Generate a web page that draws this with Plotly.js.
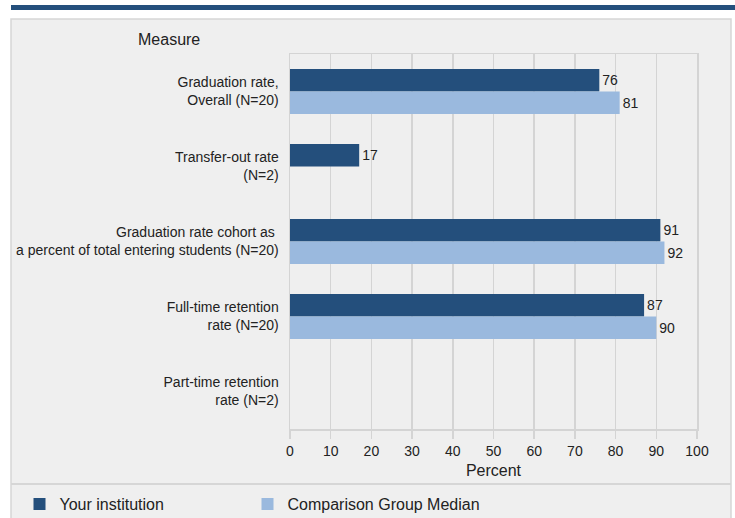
<!DOCTYPE html>
<html>
<head>
<meta charset="utf-8">
<script src="https://cdn.plot.ly/plotly-3.0.1.min.js"></script>
<style>
html,body{margin:0;padding:0;background:#ffffff;}
#chart{width:735px;height:518px;}
</style>
</head>
<body>
<div id="chart"></div>
<script>
// ---- data ----
var categories = [
  "Graduation rate,<br>Overall (N=20)",
  "Transfer-out rate<br>(N=2)",
  "Graduation rate cohort as <br>a percent of total entering students (N=20)",
  "Full-time retention<br>rate (N=20)",
  "Part-time retention<br>rate (N=2)"
];
var yourInstitution = [76, 17, 91, 87, null];
var comparisonMedian = [81, null, 92, 90, null];
var xTickValues = [0, 10, 20, 30, 40, 50, 60, 70, 80, 90, 100];
var seriesNames = ["Your institution", "Comparison Group Median"];

// ---- layout geometry (pixels) ----
var W = 735, H = 518;
var plotL = 290, plotR = 697, plotT = 54, plotB = 429;
function px(x){ return (x - plotL) / (plotR - plotL); }
function py(y){ return (plotB - y) / (plotB - plotT); }

var darkBlue = "#244f7c";
var lightBlue = "#9ab9de";
var gridCol = "#d4d4d4";
var font = "Liberation Sans, Arial, sans-serif";

var traces = [
  {
    type: "bar", orientation: "h", name: seriesNames[0],
    y: categories, x: yourInstitution,
    marker: {color: darkBlue},
    texttemplate: "%{x}", textposition: "outside", cliponaxis: false,
    textfont: {family: font, size: 14, color: "#222222"},
    hoverinfo: "x+name",
    legend: "legend"
  },
  {
    type: "bar", orientation: "h", name: seriesNames[1],
    y: categories, x: comparisonMedian,
    marker: {color: lightBlue},
    texttemplate: "%{x}", textposition: "outside", cliponaxis: false,
    textfont: {family: font, size: 14, color: "#222222"},
    hoverinfo: "x+name",
    legend: "legend2"
  }
];

var legendFont = {family: font, size: 16, color: "#222222"};

var layout = {
  width: W, height: H,
  margin: {l: plotL, r: W - plotR, t: plotT, b: H - plotB, autoexpand: false},
  paper_bgcolor: "#ffffff",
  plot_bgcolor: "rgba(0,0,0,0)",
  font: {family: font, color: "#222222"},
  barmode: "group",
  bargap: 0.4,
  bargroupgap: 0,
  showlegend: true,
  legend: {
    orientation: "h",
    x: px(19.5), xanchor: "left",
    y: py(504), yanchor: "middle",
    bgcolor: "rgba(0,0,0,0)",
    font: legendFont
  },
  legend2: {
    orientation: "h",
    x: px(247.5), xanchor: "left",
    y: py(504), yanchor: "middle",
    bgcolor: "rgba(0,0,0,0)",
    font: legendFont
  },
  xaxis: {
    range: [0, 100],
    tickvals: xTickValues,
    ticktext: xTickValues.map(String),
    showgrid: true, gridcolor: gridCol, gridwidth: 1.5,
    showline: true, linecolor: gridCol, linewidth: 1.5, mirror: true,
    ticks: "outside", ticklen: 8, tickcolor: gridCol, tickwidth: 1.5,
    ticklabelstandoff: 1,
    tickfont: {family: font, size: 14, color: "#222222"},
    zeroline: false,
    fixedrange: true,
    title: {text: "Percent", font: {family: font, size: 16, color: "#222222"}, standoff: 6}
  },
  yaxis: {
    autorange: "reversed",
    type: "category",
    showgrid: false,
    showline: true, linecolor: gridCol, linewidth: 1.5, mirror: true,
    ticks: "", ticklabelstandoff: 7,
    tickfont: {family: font, size: 14, color: "#222222"},
    zeroline: false,
    fixedrange: true
  },
  shapes: [
    // panel background
    {type: "rect", xref: "paper", yref: "paper", layer: "below",
     x0: px(11), x1: px(731), y0: py(525), y1: py(19),
     fillcolor: "#efefef", line: {color: "#d6d6d6", width: 1.5}},
    // top bar
    {type: "rect", xref: "paper", yref: "paper", layer: "below",
     x0: px(11), x1: px(736), y0: py(10), y1: py(5),
     fillcolor: darkBlue, line: {width: 0}},
    // legend separator
    {type: "line", xref: "paper", yref: "paper", layer: "below",
     x0: px(11), x1: px(731), y0: py(484), y1: py(484),
     line: {color: "#d6d6d6", width: 2}}
  ],
  annotations: [
    {text: "Measure", xref: "paper", yref: "paper",
     x: px(136), y: py(40), xanchor: "left", yanchor: "middle",
     showarrow: false, font: {family: font, size: 16, color: "#222222"}}
  ]
};

Plotly.newPlot("chart", traces, layout, {displayModeBar: false, staticPlot: true});
</script>
</body>
</html>
